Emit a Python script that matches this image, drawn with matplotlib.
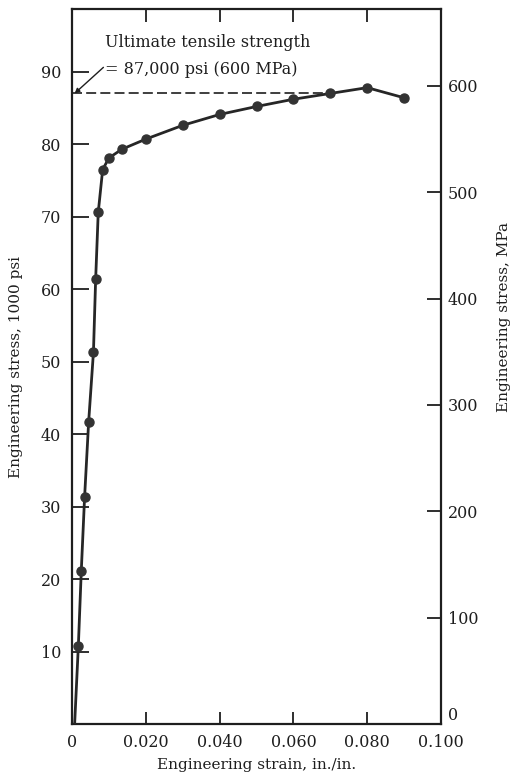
import matplotlib
matplotlib.use("Agg")
import matplotlib.pyplot as plt
from matplotlib.ticker import FixedLocator

# ---- data ----
strain = [0.0007, 0.0017, 0.0025, 0.0034, 0.0045, 0.0058, 0.0064, 0.0071, 0.0083,
          0.0100, 0.0135, 0.020, 0.030, 0.040, 0.050, 0.060, 0.070, 0.080, 0.090]
stress_ksi = [0.0, 10.7, 21.1, 31.3, 41.7, 51.3, 61.4, 70.6, 76.5,
              78.1, 79.3, 80.7, 82.6, 84.1, 85.2, 86.2, 87.0, 87.8, 86.4]
uts_ksi = 87.0
uts_line_strain = [0.0, 0.069]
x_ticks = [0, 0.020, 0.040, 0.060, 0.080, 0.100]
x_tick_labels = ["0", "0.020", "0.040", "0.060", "0.080", "0.100"]
ksi_ticks = [10, 20, 30, 40, 50, 60, 70, 80, 90]
mpa_ticks = [0, 100, 200, 300, 400, 500, 600]
annot_line1 = "Ultimate tensile strength"
annot_line2 = "= 87,000 psi (600 MPa)"

plt.rcParams['font.family'] = ['DejaVu Serif']
ink = '#1e1e1e'

fig = plt.figure(figsize=(5.11, 7.81), dpi=100)
ax = fig.add_axes([0.141, 0.073, 0.722, 0.915])

ax.plot(strain, stress_ksi, color='#262626', lw=2.0, zorder=3,
        marker='o', ms=6.5, mfc='#333333', mec='#333333', markevery=slice(1, None))
ax.plot(uts_line_strain, [uts_ksi, uts_ksi], color=ink, lw=1.2,
        dashes=(6, 2.5), zorder=2)

ax.set_xlim(0, 0.100)
ax.set_ylim(0, 98.6)

ax.xaxis.set_major_locator(FixedLocator(x_ticks))
ax.set_xticklabels(x_tick_labels)
ax.yaxis.set_major_locator(FixedLocator(ksi_ticks))
ax.tick_params(axis='x', direction='in', length=9, width=1.3, colors=ink,
               labelsize=11.5, pad=7, top=True, labeltop=False)
ax.tick_params(axis='y', direction='in', length=12, width=1.3, colors=ink,
               labelsize=11.5, pad=8, right=False)
for sp in ax.spines.values():
    sp.set_linewidth(1.6)
    sp.set_color(ink)

ax.set_xlabel("Engineering strain, in./in.", fontsize=11, color=ink, labelpad=5)
ax.set_ylabel("Engineering stress, 1000 psi", fontsize=11, color=ink)
ax.yaxis.set_label_coords(-0.153, 0.5)
ax.yaxis.label.set_va('center')

ax2 = ax.twinx()
ax2.set_ylim(0, 672)
ax2.yaxis.set_major_locator(FixedLocator(mpa_ticks))
ax2.tick_params(axis='y', direction='in', length=10, width=1.3, colors=ink,
                labelsize=11.5, pad=5)
for sp in ax2.spines.values():
    sp.set_visible(False)
ax2.set_ylabel("Engineering stress, MPa", fontsize=11, color=ink)
ax2.yaxis.label.set_va('center')
ax2.yaxis.set_label_coords(1.171, 0.57)
fig.canvas.draw()
ax2.get_yticklabels()[0].set_va('bottom')

ax.text(0.0089, 94.0, annot_line1, fontsize=11.5, ha='left', va='center', color=ink)
ax.text(0.0089, 90.3, annot_line2, fontsize=11.5, ha='left', va='center', color=ink)
ax.annotate("", xy=(0.0007, uts_ksi), xytext=(0.0085, 90.6),
            arrowprops=dict(arrowstyle='-|>', color=ink, lw=1.0,
                            mutation_scale=7, shrinkA=0, shrinkB=0))

fig.savefig("out.png", dpi=100)
